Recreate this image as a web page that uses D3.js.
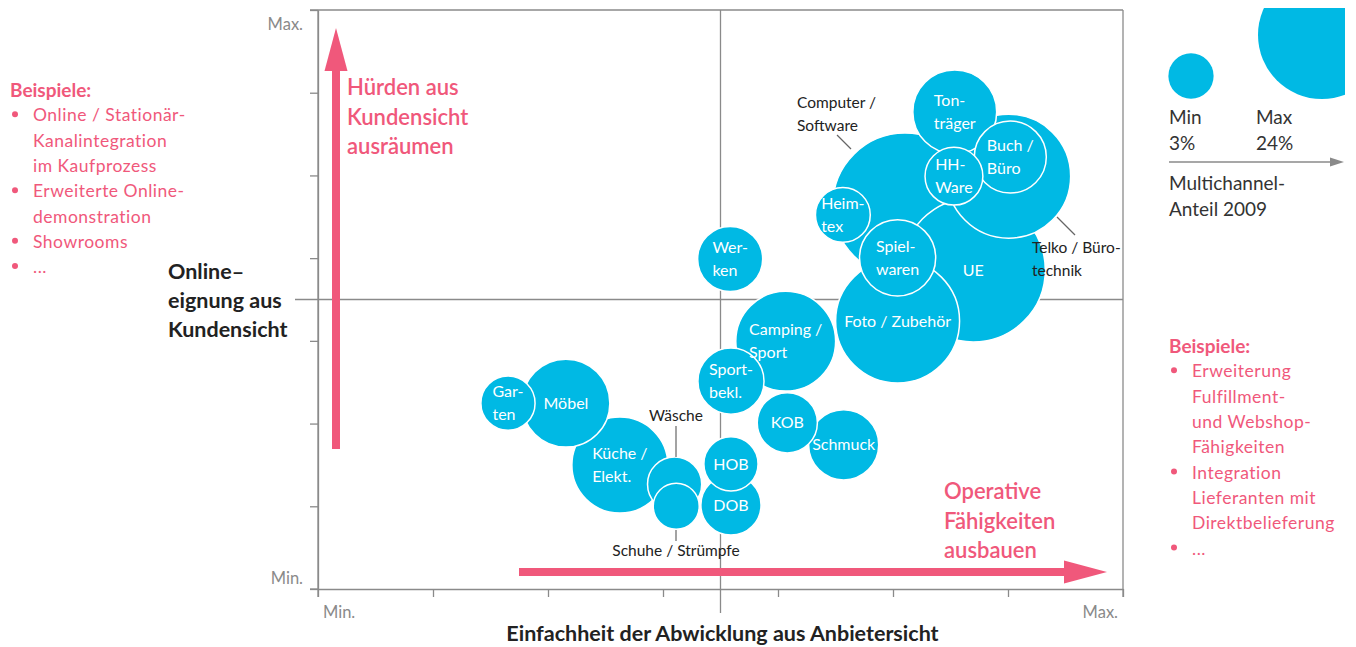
<!DOCTYPE html>
<html lang="de">
<head>
<meta charset="UTF-8">
<title>Multichannel</title>
<style>
  body { margin: 0; background: #fff; }
  text { font-family: Lato, "Noto Sans", sans-serif; }
</style>
</head>
<body>
<script src="https://cdn.jsdelivr.net/npm/d3@7"></script>
<script>
// sectors: x = Einfachheit der Abwicklung, y = Onlineeignung (0..100), share = Multichannel-Anteil 2009 in %
const sectors = ['Computer / Software', 'UE', 'Foto / Zubehör', 'Telko / Bürotechnik', 'Camping / Sport', 'Küche / Elekt.',
  'Möbel', 'Tonträger', 'Spielwaren', 'Buch / Büro', 'Schmuck', 'Sportbekl.', 'Werken', 'KOB', 'DOB', 'HH-Ware',
  'Heimtex', 'Garten', 'HOB', 'Wäsche', 'Schuhe / Strümpfe'];
const ease  = [72.9, 81.4, 72.0, 85.8, 58.1, 37.5, 30.8, 79.1, 72.0, 86.0, 65.3, 51.3, 51.2, 58.3, 51.3, 79.0, 65.2, 23.6, 51.3, 44.3, 44.5];
const fit   = [66.3, 55.1, 46.3, 71.3, 42.8, 21.4, 32.1, 82.4, 57.2, 74.6, 24.9, 35.9, 57.0, 28.7, 14.5, 71.3, 64.6, 32.1, 21.6, 18.1, 14.3];
const share = [30.4, 30.4, 22.5, 22.5, 14.6, 13.5, 11.3, 10.3, 8.5, 7.6, 7.2, 6.4, 6.2, 5.3, 5.3, 4.9, 4.4, 4.3, 4.3, 4.3, 3.1];
// text inside the bubbles (empty = labelled outside)
const inLabels = [[], ['UE'], ['Foto / Zubehör'], [], ['Camping /', 'Sport'], ['Küche /', 'Elekt.'],
  ['Möbel'], ['Ton-', 'träger'], ['Spiel-', 'waren'], ['Buch /', 'Büro'], ['Schmuck'], ['Sport-', 'bekl.'],
  ['Wer-', 'ken'], ['KOB'], ['DOB'], ['HH-', 'Ware'], ['Heim-', 'tex'], ['Gar-', 'ten'], ['HOB'], [], []];

const legendValues = [3, 24];
const legendNames = ['Min', 'Max'];
const axisEnds = ['Min.', 'Max.'];

const leftNotes = [['Online / Stationär-', 'Kanalintegration', 'im Kaufprozess'], ['Erweiterte Online-', 'demonstration'], ['Showrooms'], ['...']];
const rightNotes = [['Erweiterung', 'Fulfillment-', 'und Webshop-', 'Fähigkeiten'], ['Integration', 'Lieferanten mit', 'Direktbelieferung'], ['...']];

const width = 1356, height = 647;
const pink = '#f0587b', cyan = '#00b9e4', grey = '#8a8a8a', dark = '#222';

const svg = d3.select('body').append('svg')
  .attr('width', width)
  .attr('height', height);

const x = d3.scaleLinear().domain([0, 100]).range([318, 1123]);
const y = d3.scaleLinear().domain([0, 100]).range([589, 10]);
const r = d3.scaleSqrt().domain([0, 24]).range([0, 64]);

const tickVals = d3.range(8).map(i => i * 100 / 7);

// axes
svg.append('g').attr('transform', 'translate(0,' + y(0) + ')')
  .call(d3.axisBottom(x).tickValues(tickVals).tickSize(8).tickSizeOuter(0).tickFormat(''));
svg.append('g').attr('transform', 'translate(' + x(0) + ',0)')
  .call(d3.axisLeft(y).tickValues(tickVals).tickSize(8).tickSizeOuter(0).tickFormat(''));
svg.selectAll('.domain, .tick line').attr('stroke', grey).attr('stroke-width', 1.3);

// frame and quadrant lines
const frame = [
  [x(0) - 8, y(100), x(100), y(100)],
  [x(100), y(100), x(100), y(0) + 8],
  [x(0) - 8, y(0), x(0), y(0)],
  [x(0), y(100), x(0), y(0) + 8],
  [x(50), y(100), x(50), y(0) + 24],
  [x(0) - 23, y(50), x(100), y(50)]
];
svg.selectAll('.frame').data(frame).enter().append('line')
  .attr('class', 'frame')
  .attr('x1', d => d[0]).attr('y1', d => d[1])
  .attr('x2', d => d[2]).attr('y2', d => d[3])
  .attr('stroke', grey).attr('stroke-width', 1.3);

// axis end labels
svg.append('text').attr('x', x(0) - 15).attr('y', y(100) + 20).attr('text-anchor', 'end')
  .attr('font-size', 16.5).attr('fill', grey).text(axisEnds[1]);
svg.append('text').attr('x', x(0) - 15).attr('y', y(0) - 5).attr('text-anchor', 'end')
  .attr('font-size', 16.5).attr('fill', grey).text(axisEnds[0]);
svg.append('text').attr('x', x(0) + 5).attr('y', y(0) + 29)
  .attr('font-size', 16.5).attr('fill', grey).text(axisEnds[0]);
svg.append('text').attr('x', x(100) - 5).attr('y', y(0) + 29).attr('text-anchor', 'end')
  .attr('font-size', 16.5).attr('fill', grey).text(axisEnds[1]);

// axis titles
svg.append('text').attr('x', x(50) + 2).attr('y', 641).attr('text-anchor', 'middle')
  .attr('font-size', 21.5).attr('font-weight', 700).attr('fill', dark)
  .text('Einfachheit der Abwicklung aus Anbietersicht');
['Online–', 'eignung aus', 'Kundensicht'].forEach((t, i) => {
  svg.append('text').attr('x', 168).attr('y', 279 + i * 29)
    .attr('font-size', 21.5).attr('font-weight', 700).attr('fill', dark).text(t);
});

// pink arrows
function arrow(x1, y1, x2, y2) {
  const a = Math.atan2(y2 - y1, x2 - x1);
  const len = Math.hypot(x2 - x1, y2 - y1);
  const g = svg.append('g').attr('transform', 'translate(' + x1 + ',' + y1 + ') rotate(' + a * 180 / Math.PI + ')');
  g.append('rect').attr('x', 0).attr('y', -4).attr('width', len - 40).attr('height', 8).attr('fill', pink);
  g.append('path').attr('d', 'M' + (len - 43) + ',-11.5L' + len + ',0L' + (len - 43) + ',11.5Z').attr('fill', pink);
}
arrow(336, 449, 336, 28);
arrow(519, 572, 1107, 572);

[['Hürden aus', 'Kundensicht', 'ausräumen', 347, 95], ['Operative', 'Fähigkeiten', 'ausbauen', 944, 499]].forEach(b => {
  for (let i = 0; i < 3; i++) {
    svg.append('text').attr('x', b[3]).attr('y', b[4] + i * 29.5)
      .attr('font-size', 22).attr('font-weight', 600).attr('fill', pink).text(b[i]);
  }
});

// bubbles
const data = sectors.map((s, i) => ({name: s, x: ease[i], y: fit[i], share: share[i], lines: inLabels[i]}));

svg.selectAll('.bubble').data(data).enter().append('circle')
  .attr('class', 'bubble')
  .attr('cx', d => x(d.x))
  .attr('cy', d => y(d.y))
  .attr('r', d => r(d.share))
  .attr('fill', cyan)
  .attr('stroke', '#fff')
  .attr('stroke-width', 1.5);

data.forEach(d => {
  if (!d.lines.length) return;
  const g = svg.append('g');
  const n = d.lines.length;
  const texts = d.lines.map((t, i) => g.append('text')
    .attr('y', y(d.y) + (i - (n - 1) / 2) * 23)
    .attr('dy', '0.35em')
    .attr('font-size', 16).attr('fill', '#fff').text(t));
  const w = d3.max(texts, t => t.node().getComputedTextLength());
  texts.forEach(t => t.attr('x', x(d.x) - w / 2));
});

// outside labels with leader lines
const outside = [
  {lines: ['Computer /', 'Software'], tx: 797, ty: 103, anchor: 'start', lead: [837, 135, 851, 149]},
  {lines: ['Telko / Büro-', 'technik'], tx: 1032, ty: 248, anchor: 'start', lead: [1057, 217, 1075, 235]},
  {lines: ['Wäsche'], tx: 676, ty: 416, anchor: 'middle', lead: [676, 426, 676, 457]},
  {lines: ['Schuhe / Strümpfe'], tx: 676, ty: 551, anchor: 'middle', lead: [676, 530, 676, 541]}
];
outside.forEach(o => {
  svg.append('line').attr('x1', o.lead[0]).attr('y1', o.lead[1]).attr('x2', o.lead[2]).attr('y2', o.lead[3])
    .attr('stroke', '#666').attr('stroke-width', 1.2);
  o.lines.forEach((t, i) => {
    svg.append('text').attr('x', o.tx).attr('y', o.ty + i * 23).attr('dy', '0.35em')
      .attr('text-anchor', o.anchor).attr('font-size', 15.5).attr('fill', dark).text(t);
  });
});

// notes
function notes(list, x0, y0) {
  svg.append('text').attr('x', x0).attr('y', y0).attr('dy', '0.35em')
    .attr('font-size', 19).attr('font-weight', 700).attr('fill', pink).text('Beispiele:');
  let k = 1;
  list.forEach(item => {
    svg.append('circle').attr('cx', x0 + 5).attr('cy', y0 + k * 25.3 - 1).attr('r', 3).attr('fill', pink);
    item.forEach(t => {
      svg.append('text').attr('x', x0 + 23).attr('y', y0 + k * 25.3).attr('dy', '0.35em')
        .attr('font-size', 17.5).attr('letter-spacing', 0.5).attr('fill', pink).text(t);
      k++;
    });
  });
}
notes(leftNotes, 10, 90);
notes(rightNotes, 1169, 346);

// size legend
svg.append('clipPath').attr('id', 'legclip').append('rect')
  .attr('x', 1150).attr('y', 8).attr('width', 195).attr('height', 150);
const legendPos = [[1191, 76], [1322, 35]];
svg.selectAll('.leg').data(legendValues).enter().append('circle')
  .attr('class', 'leg')
  .attr('cx', (d, i) => legendPos[i][0])
  .attr('cy', (d, i) => legendPos[i][1])
  .attr('r', d => r(d))
  .attr('fill', cyan)
  .attr('clip-path', 'url(#legclip)');
legendValues.forEach((v, i) => {
  const lx = [1169, 1256][i];
  svg.append('text').attr('x', lx).attr('y', 124).attr('font-size', 19).attr('fill', '#333').text(legendNames[i]);
  svg.append('text').attr('x', lx).attr('y', 150).attr('font-size', 19).attr('fill', '#333').text(v + '%');
});
svg.append('line').attr('x1', 1169).attr('y1', 162).attr('x2', 1332).attr('y2', 162)
  .attr('stroke', grey).attr('stroke-width', 1.3);
svg.append('path').attr('d', 'M1330,157.5L1344,162L1330,166.5Z').attr('fill', grey);
['Multichannel-', 'Anteil 2009'].forEach((t, i) => {
  svg.append('text').attr('x', 1169).attr('y', 190 + i * 26).attr('font-size', 19).attr('fill', '#333').text(t);
});
</script>
</body>
</html>
